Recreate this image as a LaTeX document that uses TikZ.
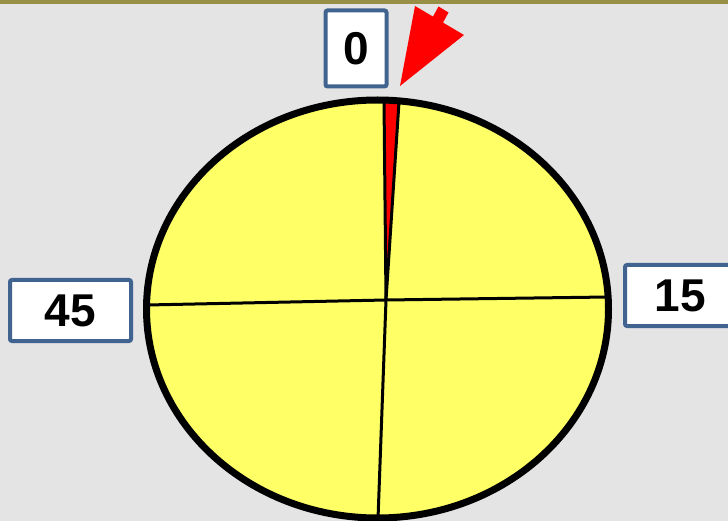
\documentclass[tikz,border=0pt]{standalone}
\usepackage{fontspec}
\setmainfont{Liberation Sans}
\usepackage{tikz}
\usetikzlibrary{positioning, calc}

\definecolor{bgGray}{HTML}{E4E4E4}
\definecolor{barOlive}{HTML}{968F45}
\definecolor{pieYellow}{HTML}{FFFF66}
\definecolor{boxBlue}{HTML}{41638F}

\begin{document}
\begin{tikzpicture}[
    x=1pt, y=-1pt,
    labelBox/.style={rectangle, draw=boxBlue, line width=4pt, fill=white, rounded corners=2pt, inner sep=0pt, font=\bfseries\fontsize{46}{46}\selectfont, align=center},
    radius line/.style={line width=3pt, line cap=round}
]
    % Background and top bar
    \useasboundingbox (0,0) rectangle (728,521);
    \fill[bgGray] (0,0) rectangle (728,521);
    \fill[barOlive] (0,0) rectangle (728,4);

    % Pie face
    \fill[pieYellow] (377.5,309) ellipse [x radius=231, y radius=209];
    \coordinate (ctr) at (386,300);
    \coordinate (topL) at (384,101);
    \coordinate (topR) at (399,102);
    \coordinate (rimE) at (608,297);
    \coordinate (rimS) at (378,519);
    \coordinate (rimW) at (147,305);

    % Red slice
    \begin{scope}
        \clip (377.5,309) ellipse [x radius=231, y radius=209];
        \fill[red] (ctr) -- ($(ctr)!1.1!(topL)$) -- ($(ctr)!1.1!(topR)$) -- cycle;
    \end{scope}

    % Slice borders
    \draw[radius line] (ctr) -- (topL);
    \draw[radius line] (ctr) -- (topR);
    \draw[radius line] (ctr) -- (rimE);
    \draw[radius line] (ctr) -- (rimS);
    \draw[radius line] (ctr) -- (rimW);
    \draw[line width=7pt] (377.5,309) ellipse [x radius=231, y radius=209];

    % Pointer
    \fill[red] (400,86) -- (415,6) -- (433,16.6) -- (438.5,6.5) -- (448.5,12.5)
        -- (443,22.6) -- (464,35) -- cycle;

    % Labels
    \node[labelBox, minimum width=61pt, minimum height=76pt] (zero) at (356,48.5) {0};
    \node[labelBox, minimum width=110pt, minimum height=61pt] (fifteen) at (680,295.5) {15};
    \node[labelBox, minimum width=121pt, minimum height=61pt] (fortyfive) at (70.5,310.5) {45};

\end{tikzpicture}
\end{document}
